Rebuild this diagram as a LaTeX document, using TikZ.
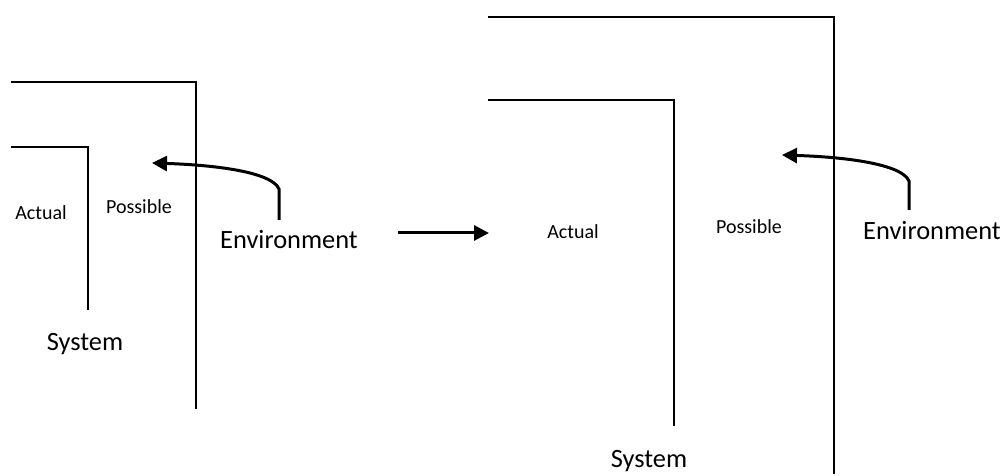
\documentclass[tikz,border=0pt]{standalone}
\usepackage{fontspec}
\setmainfont{Carlito}
\usetikzlibrary{arrows.meta, positioning}

\begin{document}
\begin{tikzpicture}[
        x=0.5pt, y=-0.5pt,
        frame/.style={line width=1pt, draw=black},
        flow/.style={line width=1.5pt, -{Triangle[length=7.5pt, width=7.5pt]}},
        small/.style={font=\fontsize{10}{12}\selectfont, inner sep=1pt},
        big/.style={font=\fontsize{13.2}{15}\selectfont, inner sep=1pt}
    ]
        \useasboundingbox (0,0) rectangle (1008,476);

        % left picture
        \draw[frame] (11,82) -- (196,82) -- (196,409);
        \draw[frame] (11,147) -- (88,147) -- (88,310);
        \node[small] (actualL) at (41,213) {Actual};
        \node[small] (possibleL) at (139,207) {Possible};
        \node[big] (systemL) at (85,344) {System};
        \node[big] (envL) at (289,240) {Environment};
        \coordinate (envLfoot) at (279,220);
        \coordinate (envLtip) at (152,163);
        \draw[flow] (envLfoot) -- (279,189) .. controls (272,172) and (215,165) .. (envLtip);

        % step between the two pictures
        \coordinate (stepfrom) at (398,233);
        \coordinate (stepto) at (489,233);
        \draw[flow] (stepfrom) -- (stepto);

        % right picture
        \draw[frame] (488,17) -- (834,17) -- (834,474);
        \draw[frame] (488,100) -- (674,100) -- (674,426);
        \node[small] (actualR) at (573,232) {Actual};
        \node[small] (possibleR) at (749,227) {Possible};
        \node[big] (systemR) at (649,461) {System};
        \node[big] (envR) at (932,231) {Environment};
        \coordinate (envRfoot) at (909,210);
        \coordinate (envRtip) at (782,155);
        \draw[flow] (envRfoot) -- (909,181) .. controls (902,164) and (845,157) .. (envRtip);
    \end{tikzpicture}
\end{document}
